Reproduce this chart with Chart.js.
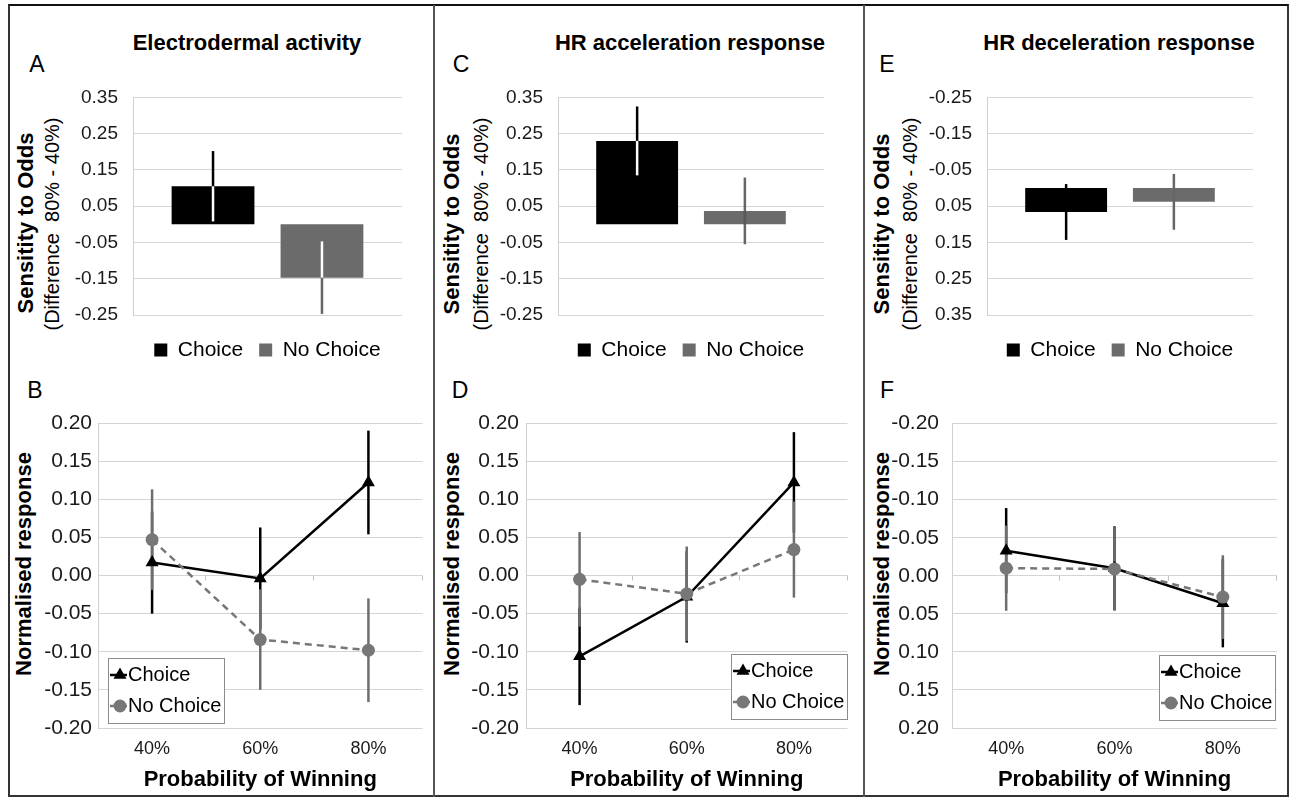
<!DOCTYPE html>
<html><head><meta charset="utf-8">
<script src="https://cdn.jsdelivr.net/npm/chart.js@4.4.1/dist/chart.umd.min.js"></script>
<style>
body{margin:0;background:#fff;width:1290px;height:800px;position:relative;overflow:hidden;font-family:"Liberation Sans",Arial,Helvetica,sans-serif;color:#000;}
.frame{position:absolute;left:8px;top:4px;width:1277px;height:789px;border:2px solid #333;border-top-color:#111;}
.sep{position:absolute;top:5px;width:2px;height:792px;background:#555;}
.t{position:absolute;white-space:pre;transform:translate(-50%,-50%);line-height:1;}
.r{position:absolute;white-space:pre;transform:translate(-50%,-50%) rotate(-90deg);line-height:1;}
.title{font-weight:bold;font-size:22px;}
.letter{font-size:23px;}
.yb{font-weight:bold;font-size:22px;}
.ys{font-size:20px;}
canvas{position:absolute;}
</style></head><body>
<div class="frame"></div>
<div class="sep" style="left:433px"></div>
<div class="sep" style="left:863px"></div>

<div class="t title" style="left:247px;top:43px">Electrodermal activity</div>
<div class="t title" style="left:690px;top:43px">HR acceleration response</div>
<div class="t title" style="left:1119px;top:43px">HR deceleration response</div>

<div class="t letter" style="left:37px;top:64px">A</div>
<div class="t letter" style="left:461px;top:64px">C</div>
<div class="t letter" style="left:887px;top:64px">E</div>
<div class="t letter" style="left:35px;top:390px">B</div>
<div class="t letter" style="left:460px;top:390px">D</div>
<div class="t letter" style="left:887px;top:390px">F</div>

<div class="r yb" style="left:26px;top:223px">Sensitity to Odds</div>
<div class="r ys" style="left:52px;top:224px">(Difference  80% - 40%)</div>
<div class="r yb" style="left:452px;top:224px">Sensitity to Odds</div>
<div class="r ys" style="left:481px;top:224px">(Difference  80% - 40%)</div>
<div class="r yb" style="left:882px;top:224px">Sensitity to Odds</div>
<div class="r ys" style="left:910px;top:224px">(Difference  80% - 40%)</div>

<div class="r yb" style="left:24px;top:564px">Normalised response</div>
<div class="r yb" style="left:452px;top:564px">Normalised response</div>
<div class="r yb" style="left:882px;top:564px">Normalised response</div>

<canvas id="cA" width="360" height="309" style="left:60px;top:71px"></canvas>
<canvas id="cC" width="360" height="309" style="left:485px;top:71px"></canvas>
<canvas id="cE" width="360" height="309" style="left:914px;top:71px"></canvas>
<canvas id="cB" width="420" height="395" style="left:10px;top:400px"></canvas>
<canvas id="cD" width="415" height="395" style="left:440px;top:400px"></canvas>
<canvas id="cF" width="415" height="397" style="left:870px;top:398px"></canvas>

<script>
// ---------------- DATA ----------------
const seriesNames = ['Choice', 'No Choice'];
const barCategories = [''];
const probabilityLabels = ['40%', '60%', '80%'];

// Sensitivity to odds (80% - 40%)
const edaSensitivity    = [0.105, -0.147];
const edaSensitivityErr = [0.097, 0.100];
const accSensitivity    = [0.230, 0.037];
const accSensitivityErr = [0.095, 0.092];
const decSensitivity    = [0.066, 0.038];
const decSensitivityErr = [0.077, 0.077];

// Normalised response by probability of winning
const edaChoice       = [0.017, -0.004, 0.122];
const edaChoiceErr    = [0.067, 0.067, 0.068];
const edaNoChoice     = [0.047, -0.084, -0.098];
const edaNoChoiceErr  = [0.066, 0.066, 0.068];
const accChoice       = [-0.106, -0.028, 0.122];
const accChoiceErr    = [0.064, 0.060, 0.066];
const accNoChoice     = [-0.005, -0.024, 0.034];
const accNoChoiceErr  = [0.062, 0.062, 0.063];
const decChoice       = [-0.033, -0.010, 0.036];
const decChoiceErr    = [0.056, 0.055, 0.058];
const decNoChoice     = [-0.010, -0.009, 0.028];
const decNoChoiceErr  = [0.056, 0.055, 0.055];

// Tick labels
const sensitivityTickLabels = ['-0.25', '-0.15', '-0.05', '0.05', '0.15', '0.25', '0.35'];
const responseTickLabels = ['-0.20', '-0.15', '-0.10', '-0.05', '0.00', '0.05', '0.10', '0.15', '0.20'];

// ---------------- HELPERS ----------------
const FONT = '"Liberation Sans", Arial, Helvetica, sans-serif';
Chart.defaults.font.family = FONT;
Chart.defaults.color = '#111';
Chart.defaults.animation = false;

function fmt(v) { return Math.abs(v) < 1e-9 ? '0.00' : v.toFixed(2); }

function drawErrors(chart, opts) {
  const ctx = chart.ctx, ys = chart.scales.y;
  ctx.save();
  ctx.lineWidth = opts.width || 2.5;
  ctx.lineCap = 'butt';
  chart.data.datasets.forEach((ds, i) => {
    if (!ds.errors) return;
    const meta = chart.getDatasetMeta(i);
    meta.data.forEach((el, j) => {
      const v = ds.data[j], e = ds.errors[j];
      const x = el.x;
      const yA = ys.getPixelForValue(v + e), yB = ys.getPixelForValue(v - e);
      ctx.strokeStyle = ds.errorColor;
      ctx.beginPath(); ctx.moveTo(x, yA); ctx.lineTo(x, yB); ctx.stroke();
      if (ds.errorInsideColor && el.base !== undefined) {
        const lo = Math.max(Math.min(yA, yB), Math.min(el.base, el.y));
        const hi = Math.min(Math.max(yA, yB), Math.max(el.base, el.y));
        if (hi > lo) {
          ctx.strokeStyle = ds.errorInsideColor;
          ctx.beginPath(); ctx.moveTo(x, lo); ctx.lineTo(x, hi); ctx.stroke();
        }
      }
    });
  });
  ctx.restore();
}
const errorBarPlugin = {
  id: 'errorBars',
  beforeDatasetsDraw(chart, args, opts) { if (opts.layer === 'below') drawErrors(chart, opts); },
  afterDatasetsDraw(chart, args, opts) { if (opts.layer === 'above') drawErrors(chart, opts); }
};

const zeroTicksPlugin = {
  id: 'zeroTicks',
  beforeDatasetsDraw(chart, args, opts) {
    if (!opts.display) return;
    const xs = chart.scales.x, ys = chart.scales.y, ctx = chart.ctx;
    const y0 = ys.getPixelForValue(0);
    const n = chart.data.labels.length;
    ctx.save();
    ctx.strokeStyle = opts.color; ctx.lineWidth = 1;
    for (let j = 0; j < n; j++) {
      const xb = j < n - 1 ? (xs.getPixelForValue(j) + xs.getPixelForValue(j + 1)) / 2 : chart.chartArea.right;
      const xr = Math.round(xb) - 0.5;
      ctx.beginPath(); ctx.moveTo(xr, y0); ctx.lineTo(xr, y0 + 5); ctx.stroke();
    }
    ctx.restore();
  }
};

function drawMarker(ctx, style, x, y, r) {
  ctx.beginPath();
  if (style === 'triangle') {
    ctx.moveTo(x, y - r);
    ctx.lineTo(x + r * 0.866, y + r / 2);
    ctx.lineTo(x - r * 0.866, y + r / 2);
    ctx.closePath();
  } else {
    ctx.arc(x, y, r, 0, Math.PI * 2);
  }
  ctx.fill();
}

const boxLegendPlugin = {
  id: 'boxLegend',
  afterDatasetsDraw(chart, args, o) {
    if (!o.display) return;
    const ctx = chart.ctx, ca = chart.chartArea;
    const dss = chart.data.datasets;
    ctx.save();
    ctx.font = o.fontSize + 'px ' + FONT;
    const tw = Math.max(...dss.map(d => ctx.measureText(d.label).width));
    const w = Math.round(o.textX + tw + o.padRight), h = o.height;
    const left = Math.round(o.align === 'left' ? ca.left + o.offsetX : ca.right - o.offsetX - w);
    const top = Math.round(ca.bottom - o.offsetBottom - h);
    ctx.fillStyle = '#fff'; ctx.fillRect(left, top, w, h);
    ctx.strokeStyle = o.borderColor; ctx.lineWidth = 1;
    ctx.strokeRect(left + 0.5, top + 0.5, w, h);
    dss.forEach((ds, k) => {
      const cy = top + o.firstRow + k * o.rowGap;
      ctx.strokeStyle = ds.borderColor; ctx.lineWidth = ds.borderWidth;
      ctx.setLineDash(ds.borderDash || []);
      ctx.beginPath(); ctx.moveTo(left + 2, cy); ctx.lineTo(left + o.textX - 1, cy); ctx.stroke();
      ctx.setLineDash([]);
      ctx.fillStyle = ds.pointBackgroundColor;
      drawMarker(ctx, ds.pointStyle, left + o.markerX, cy, ds.pointRadius);
      ctx.fillStyle = '#000'; ctx.textBaseline = 'middle'; ctx.textAlign = 'left';
      ctx.fillText(ds.label, left + o.textX, cy);
    });
    ctx.restore();
  }
};

// ---------------- BAR PANELS ----------------
function barChart(id, values, errs, reverse, insideColors, yWidth, padRight) {
  return new Chart(document.getElementById(id), {
    type: 'bar',
    data: {
      labels: barCategories,
      datasets: [
        { label: seriesNames[0], data: values.slice(0, 1), errors: errs.slice(0, 1),
          backgroundColor: '#000000', borderWidth: 0,
          errorColor: '#000000', errorInsideColor: insideColors[0] },
        { label: seriesNames[1], data: values.slice(1, 2), errors: errs.slice(1, 2),
          backgroundColor: '#6b6b6b', borderWidth: 0,
          errorColor: '#666666', errorInsideColor: insideColors[1] }
      ]
    },
    options: {
      responsive: false,
      animation: false,
      categoryPercentage: 0.81,
      barPercentage: 0.76,
      layout: { padding: { top: 10, right: padRight, bottom: 9.5, left: 0 } },
      scales: {
        x: {
          display: true,
          afterFit(s) { s.height = 8.5; },
          ticks: { display: false },
          grid: { display: false, drawTicks: false },
          border: { display: false }
        },
        y: {
          min: -0.25, max: 0.35, reverse: reverse,
          afterFit(s) { s.width = yWidth; },
          ticks: {
            stepSize: 0.05, maxTicksLimit: 50, padding: 15,
            font: { size: 19 }, color: '#1a1a1a',
            callback: (v) => sensitivityTickLabels.includes(fmt(v)) ? fmt(v) : ''
          },
          grid: {
            drawTicks: false,
            color: (c) => (c.tick && Math.abs(c.tick.value) < 1e-9) ? '#3c3c3c' : '#d6d6d6',
            lineWidth: (c) => (c.tick && Math.abs(c.tick.value) < 1e-9) ? 1.5 : 1
          },
          border: { display: true, color: '#d0d0d0', width: 1 }
        }
      },
      plugins: {
        legend: {
          display: true, position: 'bottom', fullSize: false,
          labels: { boxWidth: 13, boxHeight: 13, padding: 16, color: '#000', font: { size: 21 } }
        },
        tooltip: { enabled: false },
        errorBars: { layer: 'above', width: 2.5 }
      }
    },
    plugins: [errorBarPlugin]
  });
}

barChart('cA', edaSensitivity, edaSensitivityErr, false, ['#ffffff', '#ffffff'], 73, 18);
barChart('cC', accSensitivity, accSensitivityErr, false, ['#ffffff', '#595959'], 73, 21);
barChart('cE', decSensitivity, decSensitivityErr, true, [null, null], 73, 21);

// ---------------- LINE PANELS ----------------
function lineChart(id, choice, choiceErr, noChoice, noChoiceErr, reverse, yWidth, padRight, tickPad, legendAlign, legendOffX, legendOffB) {
  return new Chart(document.getElementById(id), {
    type: 'line',
    data: {
      labels: probabilityLabels,
      datasets: [
        { label: seriesNames[0], data: choice, errors: choiceErr, errorColor: '#000000',
          borderColor: '#000000', borderWidth: 2.5, tension: 0, fill: false,
          pointStyle: 'triangle', pointRadius: 7.5, pointBackgroundColor: '#000000',
          pointBorderColor: '#000000', pointBorderWidth: 0, order: 1 },
        { label: seriesNames[1], data: noChoice, errors: noChoiceErr, errorColor: '#6e6e6e',
          borderColor: '#777777', borderWidth: 2.5, borderDash: [7, 5], tension: 0, fill: false,
          pointStyle: 'circle', pointRadius: 6.5, pointBackgroundColor: '#777777',
          pointBorderColor: '#777777', pointBorderWidth: 0, order: 0 }
      ]
    },
    options: {
      responsive: false,
      animation: false,
      layout: { padding: { top: 23, right: padRight, bottom: 0, left: 0 } },
      scales: {
        x: {
          offset: true,
          afterFit(s) { s.height = 67; },
          grid: { display: false, drawTicks: false },
          border: { display: false },
          ticks: { padding: 10, font: { size: 18 }, color: '#1a1a1a' },
          title: { display: true, text: 'Probability of Winning', color: '#000',
                   font: { size: 22, weight: 'bold' }, padding: { top: 0, bottom: 2 } }
        },
        y: {
          min: -0.2, max: 0.2, reverse: reverse,
          afterFit(s) { s.width = yWidth; },
          ticks: {
            stepSize: 0.05, maxTicksLimit: 50, padding: tickPad,
            font: { size: 21 }, color: '#1a1a1a',
            callback: (v) => responseTickLabels.includes(fmt(v)) ? fmt(v) : ''
          },
          grid: { drawTicks: false, color: '#d4d4d4', lineWidth: 1 },
          border: { display: true, color: '#d0d0d0', width: 1 }
        }
      },
      plugins: {
        legend: { display: false },
        tooltip: { enabled: false },
        errorBars: { layer: 'below', width: 2.5 },
        zeroTicks: { display: true, color: '#c4c4c4' },
        boxLegend: { display: true, align: legendAlign, offsetX: legendOffX, offsetBottom: legendOffB,
                     height: 65, fontSize: 20, markerX: 12, textX: 20, padRight: 3,
                     firstRow: 17, rowGap: 31, borderColor: '#8c8c8c' }
      }
    },
    plugins: [errorBarPlugin, zeroTicksPlugin, boxLegendPlugin]
  });
}

lineChart('cB', edaChoice, edaChoiceErr, edaNoChoice, edaNoChoiceErr, false, 88, 5, 6, 'left', 10, 5);
lineChart('cD', accChoice, accChoiceErr, accNoChoice, accNoChoiceErr, false, 86, 7, 7, 'right', 1, 9);
lineChart('cF', decChoice, decChoiceErr, decNoChoice, decNoChoiceErr, true, 82, 8, 13, 'right', 2, 8);
</script>
</body></html>
